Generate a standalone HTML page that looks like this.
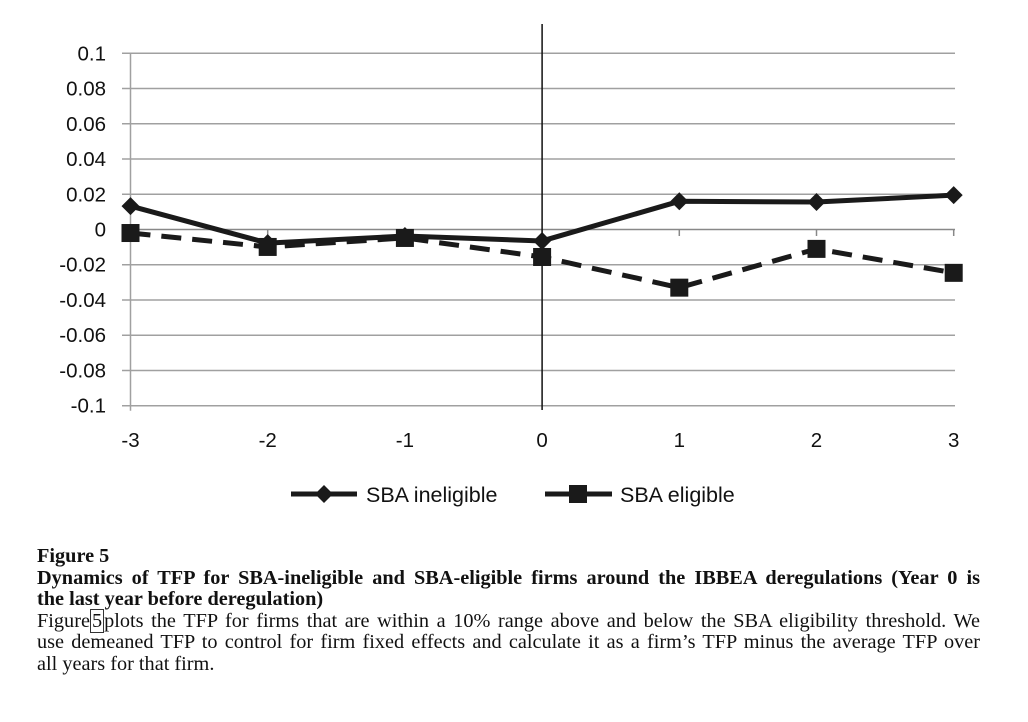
<!DOCTYPE html>
<html><head><meta charset="utf-8"><style>
body{margin:0;background:#fff;width:1028px;height:722px;overflow:hidden;font-family:"Liberation Sans",sans-serif}
.cap{position:absolute;left:37px;width:943px;font-family:"Liberation Serif",serif;font-size:20.3px;line-height:21.6px;color:#111}
.j{display:block;white-space:nowrap;text-align:justify;text-align-last:justify}
.n{display:block;white-space:nowrap}
</style></head><body>
<svg width="1028" height="530" style="position:absolute;left:0;top:0" id="chart"></svg>
<div class="cap" style="top:546px">
<b class="n">Figure 5</b>
<b><span class="j">Dynamics of TFP for SBA-ineligible and SBA-eligible firms around the IBBEA deregulations (Year 0 is</span><span class="n">the last year before deregulation)</span></b>
<span><span class="j">Figure<span style="border:1px solid #333;padding:0 1px">5</span>plots the TFP for firms that are within a 10% range above and below the SBA eligibility threshold. We</span><span class="j">use demeaned TFP to control for firm fixed effects and calculate it as a firm’s TFP minus the average TFP over</span><span class="n">all years for that firm.</span></span>
</div>
<script>
const categories=[-3,-2,-1,0,1,2,3];
const ineligible=[0.0133,-0.0077,-0.0037,-0.0065,0.016,0.0156,0.0195];
const eligible=[-0.002,-0.0099,-0.0048,-0.0156,-0.033,-0.011,-0.0246];
const yTicks=[0.1,0.08,0.06,0.04,0.02,0,-0.02,-0.04,-0.06,-0.08,-0.1];
const yLabels=["0.1","0.08","0.06","0.04","0.02","0","-0.02","-0.04","-0.06","-0.08","-0.1"];
const svg=document.getElementById('chart');const NS='http://www.w3.org/2000/svg';
const x=i=>130.5+i*137.2; const y=v=>229.5-v*1762;
function mk(t,a,p){const e=document.createElementNS(NS,t);for(const k in a)e.setAttribute(k,a[k]);(p||svg).appendChild(e);return e;}
yTicks.forEach((v,i)=>{
 const g=mk('line',{x1:122,x2:955,y1:y(v),y2:y(v),stroke:v===0?'#888':'#a0a0a0','stroke-width':1.5});
 
 
 const t=mk('text',{x:106,y:y(v)+7,'text-anchor':'end','font-size':20.5,fill:'#111'});t.textContent=yLabels[i];
 
 
});
const ax=mk('line',{x1:130.5,x2:130.5,y1:y(0.1),y2:y(-0.1)+5,stroke:'#a0a0a0','stroke-width':1.5});


categories.forEach((c,i)=>{
 const tk=mk('line',{x1:x(i),x2:x(i),y1:229.5,y2:236,stroke:'#888','stroke-width':1.5});
 
 
 const t=mk('text',{x:x(i),y:447,'text-anchor':'middle','font-size':20.5,fill:'#111'});t.textContent=c;
 
 
});
const vl=mk('line',{x1:x(3),x2:x(3),y1:24,y2:410,stroke:'#111','stroke-width':1.5});


const pe=mk('polyline',{points:eligible.map((v,i)=>x(i)+','+y(v)).join(' '),fill:'none',stroke:'#1a1a1a','stroke-width':5,'stroke-dasharray':'20 11'});


const pi=mk('polyline',{points:ineligible.map((v,i)=>x(i)+','+y(v)).join(' '),fill:'none',stroke:'#1a1a1a','stroke-width':5});


ineligible.forEach((v,i)=>{
 const d=mk('polygon',{points:`${x(i)},${y(v)-9} ${x(i)+9},${y(v)} ${x(i)},${y(v)+9} ${x(i)-9},${y(v)}`,fill:'#1a1a1a'});
 
 
});
eligible.forEach((v,i)=>{
 const s=mk('rect',{x:x(i)-9,y:y(v)-9,width:18,height:18,fill:'#1a1a1a'});
 
 
});
const l1=mk('line',{x1:291,x2:357,y1:494,y2:494,stroke:'#1a1a1a','stroke-width':5});


const l1m=mk('polygon',{points:'324,485 333,494 324,503 315,494',fill:'#1a1a1a'});


const t1=mk('text',{x:366,y:502,'font-size':21.5,fill:'#111'});t1.textContent='SBA ineligible';


const l2a=mk('line',{x1:545,x2:570,y1:494,y2:494,stroke:'#1a1a1a','stroke-width':5});


const l2b=mk('line',{x1:586,x2:612,y1:494,y2:494,stroke:'#1a1a1a','stroke-width':5});


const l2m=mk('rect',{x:569,y:485,width:18,height:18,fill:'#1a1a1a'});


const t2=mk('text',{x:620,y:502,'font-size':21.5,fill:'#111'});t2.textContent='SBA eligible';


</script>
</body></html>
